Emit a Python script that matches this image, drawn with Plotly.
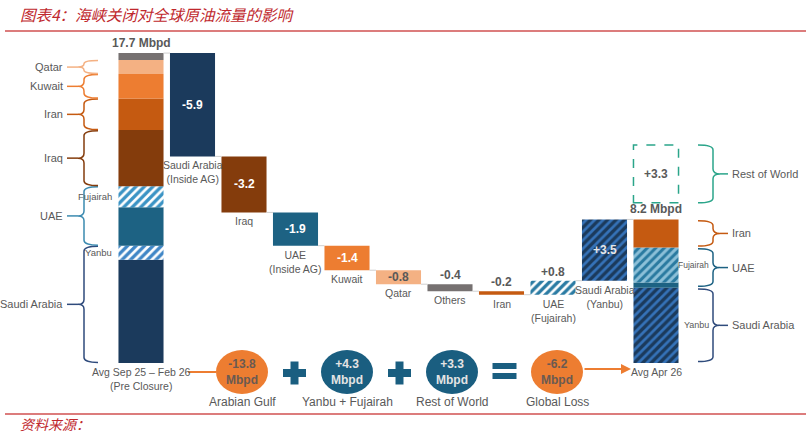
import plotly.graph_objects as go

# ------------------------------------------------------------------ data
pre_segments = ["Saudi Arabia (Inside AG)", "Saudi Arabia (Yanbu)", "UAE (Inside AG)",
                "UAE (Fujairah)", "Iraq", "Iran", "Kuwait", "Qatar", "Others"]
pre_values = [5.9, 0.8, 2.2, 1.2, 3.2, 1.8, 1.4, 0.8, 0.4]

change_labels = ["Saudi Arabia<br>(Inside AG)", "Iraq", "UAE<br>(Inside AG)", "Kuwait",
                 "Qatar", "Others", "Iran", "UAE<br>(Fujairah)", "Saudi Arabia<br>(Yanbu)"]
change_values = [-5.9, -3.2, -1.9, -1.4, -0.8, -0.4, -0.2, 0.8, 3.5]

post_segments = ["Saudi Arabia (Yanbu)", "UAE (Inside AG)", "UAE (Fujairah)", "Iran"]
post_values = [4.3, 0.3, 2.0, 1.6]
rest_of_world = 3.3

start_label = "Avg Sep 25 – Feb 26<br>(Pre Closure)"
end_label = "Avg Apr 26"

left_groups = ["Saudi Arabia", "UAE", "Iraq", "Iran", "Kuwait", "Qatar"]
left_group_sizes = [2, 2, 1, 1, 1, 1]
right_groups = ["Saudi Arabia", "UAE", "Iran"]
right_group_sizes = [1, 2, 1]

summary_values = ["-13.8", "+4.3", "+3.3", "-6.2"]
summary_labels = ["Arabian Gulf", "Yanbu + Fujairah", "Rest of World", "Global Loss"]
summary_ops = ["+", "+", "="]

title_text = "图表4：海峡关闭对全球原油流量的影响"
source_text = "资料来源："

# ------------------------------------------------------------------ styles
NAVY = "#1B3A5C"
TEAL = "#1D6283"
GREY_TXT = "#595959"
ORANGE = "#ED7D31"
RED = "#C0282D"
FONT = "Liberation Sans Narrow, Arial Narrow, Liberation Sans, Arial, sans-serif"

def solid(c):
    return dict(color=c, line=dict(width=0))

def hatch(bg, fg, sol=0.45):
    return dict(color=bg, line=dict(width=0),
                pattern=dict(shape="/", bgcolor=bg, fgcolor=fg, size=6,
                             solidity=sol, fillmode="replace"))

seg_style_pre = {
    "Saudi Arabia (Inside AG)": solid(NAVY),
    "Saudi Arabia (Yanbu)": hatch("#FFFFFF", "#3F86C6", 0.55),
    "UAE (Inside AG)": solid(TEAL),
    "UAE (Fujairah)": hatch("#FFFFFF", "#3A93C4", 0.55),
    "Iraq": solid("#843C0C"),
    "Iran": solid("#C55A11"),
    "Kuwait": solid(ORANGE),
    "Qatar": solid("#F4B183"),
    "Others": solid("#767171"),
}
seg_style_post = {
    "Saudi Arabia (Yanbu)": hatch(NAVY, "#3572B8", 0.45),
    "UAE (Inside AG)": solid(TEAL),
    "UAE (Fujairah)": hatch("#2A7AA0", "#8CC0D8", 0.5),
    "Iran": solid("#C55A11"),
}
change_styles = [solid(NAVY), solid("#843C0C"), solid(TEAL), solid(ORANGE), solid("#F4B183"),
                 solid("#767171"), solid("#C55A11"), hatch("#FFFFFF", "#2A7BA3", 0.55),
                 hatch(NAVY, "#3572B8", 0.45)]
change_text_pos = ["in", "in", "in", "in", "in", "above", "above", "above", "in"]
change_text_col = ["white", "white", "white", "white", GREY_TXT, GREY_TXT, GREY_TXT, GREY_TXT, "#E6E6E6"]

left_group_colors = ["#2F4B7C", "#3B8AB0", "#843C0C", "#C55A11", ORANGE, "#F4B183"]
right_group_colors = ["#2F4B7C", "#1D6283", "#C55A11"]
ROW_COLOR = "#2BA58A"

# ------------------------------------------------------------------ geometry (pixel mapping)
W, H = 811, 437
X_C0, X_S = 141.0, 51.5      # pixel of category 0 and pixel per category
Y_ZERO, Y_S = 363.0, 17.51   # pixel of value 0 and pixels per Mbpd
BAR_W = 0.875

def px2x(p):
    return (p - X_C0) / X_S

def px2y(p):
    return (Y_ZERO - p) / Y_S

fig = go.Figure()
shapes = []
ann = []

def add_bar(pos, base, h, style):
    fig.add_trace(go.Bar(x=[pos], y=[h], base=[base], width=BAR_W, marker=style,
                         hoverinfo="skip", showlegend=False))

def text(x, y, t, size=11, color=GREY_TXT, bold=False, xanchor="center", yanchor="middle",
         yshift=0, family=FONT):
    if bold:
        t = "<b>" + t + "</b>"
    ann.append(dict(x=x, y=y, xref="x", yref="y", text=t,
                    showarrow=False, xanchor=xanchor, yanchor=yanchor, yshift=yshift,
                    font=dict(size=size, color=color, family=family), align="center"))

# ---- left stacked bar
pos_start = 0
cum = 0.0
pre_bounds = []
for name, v in zip(pre_segments, pre_values):
    add_bar(pos_start, cum, v, seg_style_pre[name])
    pre_bounds.append((cum, cum + v))
    cum += v
total_pre = cum
text(pos_start, total_pre, "%.1f Mbpd" % total_pre, size=12, bold=True, yanchor="bottom", yshift=1)
text(pos_start, 0, start_label, size=10.5, yanchor="top", yshift=-1)

# ---- waterfall
level = total_pre
prev_pos = pos_start
for i, (lab, v) in enumerate(zip(change_labels, change_values)):
    pos = i + 1
    lo, hi = (level + v, level) if v < 0 else (level, level + v)
    shapes.append(dict(type="line", xref="x", yref="y", x0=prev_pos + BAR_W / 2, x1=pos - BAR_W / 2,
                       y0=level, y1=level, line=dict(color="#D0D0D0", width=1)))
    add_bar(pos, lo, hi - lo, change_styles[i])
    t = ("%+.1f" % v)
    if change_text_pos[i] == "in":
        text(pos, (lo + hi) / 2, t, size=12, color=change_text_col[i], bold=True)
    else:
        text(pos, hi, t, size=12, color=change_text_col[i], bold=True, yanchor="bottom", yshift=0)
    text(pos, lo, lab, size=10.5, yanchor="top", yshift=-1)
    level += v
    prev_pos = pos

# ---- right stacked bar
pos_end = len(change_values) + 1
shapes.append(dict(type="line", xref="x", yref="y", x0=prev_pos + BAR_W / 2, x1=pos_end - BAR_W / 2,
                   y0=level, y1=level, line=dict(color="#D0D0D0", width=1)))
cum = 0.0
post_bounds = []
for name, v in zip(post_segments, post_values):
    add_bar(pos_end, cum, v, seg_style_post[name])
    post_bounds.append((cum, cum + v))
    cum += v
total_post = cum
text(pos_end, total_post, "%.1f Mbpd" % total_post, size=12, bold=True, yanchor="bottom", yshift=1)
text(pos_end, 0, end_label, size=10.5, yanchor="top", yshift=-1)

# rest of world dashed box
row_gap = 0.95
row_lo = total_post + row_gap
row_hi = row_lo + rest_of_world
shapes.append(dict(type="rect", xref="x", yref="y", x0=pos_end - BAR_W / 2, x1=pos_end + BAR_W / 2,
                   y0=row_lo, y1=row_hi, line=dict(color=ROW_COLOR, width=1.5, dash="dash")))
text(pos_end, (row_lo + row_hi) / 2, "+%.1f" % rest_of_world, size=12, bold=True)

# ---- braces
def brace(lo, hi, tip, spine, point, color):
    r = min(0.28, (hi - lo) / 4.0)
    mid = (lo + hi) / 2
    tx, sx, pxx = px2x(tip), px2x(spine), px2x(point)
    path = ("M %f,%f Q %f,%f %f,%f L %f,%f Q %f,%f %f,%f Q %f,%f %f,%f L %f,%f Q %f,%f %f,%f" %
            (tx, hi, sx, hi, sx, hi - r, sx, mid + r, sx, mid, pxx, mid, sx, mid, sx, mid - r,
             sx, lo + r, sx, lo, tx, lo))
    shapes.append(dict(type="path", xref="x", yref="y", path=path,
                       line=dict(color=color, width=1.5)))

idx = 0
for g, n, col in zip(left_groups, left_group_sizes, left_group_colors):
    lo = pre_bounds[idx][0]
    hi = pre_bounds[idx + n - 1][1]
    brace(lo + 0.03, hi - 0.03, 98, 84, 78, col)
    mid = (lo + hi) / 2
    shapes.append(dict(type="line", xref="x", yref="y", x0=px2x(67), x1=px2x(78), y0=mid, y1=mid,
                       line=dict(color=col, width=1.5)))
    text(px2x(65), mid, g, size=11, xanchor="right")
    idx += n

text(px2x(114), sum(pre_bounds[3]) / 2, "Fujairah", size=9.5, xanchor="right")
text(px2x(114), sum(pre_bounds[1]) / 2, "Yanbu", size=9.5, xanchor="right")

idx = 0
for g, n, col in zip(right_groups, right_group_sizes, right_group_colors):
    lo = post_bounds[idx][0]
    hi = post_bounds[idx + n - 1][1]
    brace(lo + 0.08, hi - 0.08, 698, 713, 720, col)
    mid = (lo + hi) / 2
    shapes.append(dict(type="line", xref="x", yref="y", x0=px2x(720), x1=px2x(728), y0=mid, y1=mid,
                       line=dict(color=col, width=1.5)))
    text(px2x(730), mid, g, size=11, xanchor="left")
    idx += n
brace(row_lo, row_hi, 698, 713, 720, ROW_COLOR)
shapes.append(dict(type="line", xref="x", yref="y", x0=px2x(720), x1=px2x(728),
                   y0=(row_lo + row_hi) / 2, y1=(row_lo + row_hi) / 2,
                   line=dict(color=ROW_COLOR, width=1.5)))
text(px2x(730), (row_lo + row_hi) / 2, "Rest of World", size=11, xanchor="left")
text(px2x(711), sum(post_bounds[2]) / 2, "Fujairah", size=8.5, xanchor="right")
text(px2x(711), sum(post_bounds[0]) / 2, "Yanbu", size=9, xanchor="right")

# ---- summary circles
circle_cx = [242, 347, 452, 557]
circle_cy = 372
circle_colors = [ORANGE, "#1A5E80", "#1A5E80", ORANGE]
circle_txt = ["#6A5A52", "#E4E4E4", "#E4E4E4", "#6A5A52"]
for cx, val, lab, fc, tc in zip(circle_cx, summary_values, summary_labels, circle_colors, circle_txt):
    shapes.append(dict(type="circle", xref="x", yref="y", x0=px2x(cx - 26), x1=px2x(cx + 26),
                       y0=px2y(circle_cy + 22), y1=px2y(circle_cy - 22), fillcolor=fc,
                       line=dict(width=0)))
    text(px2x(cx), px2y(circle_cy), val + "<br>Mbpd", size=12, color=tc, bold=True)
    text(px2x(cx), px2y(402), lab, size=12)

op_x = [(a + b) / 2 for a, b in zip(circle_cx[:-1], circle_cx[1:])]
OPC = "#1A5E80"
for ox, op in zip(op_x, summary_ops):
    if op == "+":
        shapes.append(dict(type="rect", xref="x", yref="y", x0=px2x(ox - 11.5), x1=px2x(ox + 11.5),
                           y0=px2y(373 + 4), y1=px2y(373 - 4), fillcolor=OPC, line=dict(width=0)))
        shapes.append(dict(type="rect", xref="x", yref="y", x0=px2x(ox - 4), x1=px2x(ox + 4),
                           y0=px2y(373 + 11.5), y1=px2y(373 - 11.5), fillcolor=OPC, line=dict(width=0)))
    else:
        for y0p, y1p in [(363, 369), (373, 379)]:
            shapes.append(dict(type="rect", xref="x", yref="y", x0=px2x(ox - 12), x1=px2x(ox + 12),
                               y0=px2y(y1p), y1=px2y(y0p), fillcolor=OPC, line=dict(width=0)))

shapes.append(dict(type="line", xref="x", yref="y", x0=px2x(188), x1=px2x(circle_cx[0] - 26),
                   y0=px2y(372), y1=px2y(372), line=dict(color=ORANGE, width=2)))
ann.append(dict(x=px2x(631), y=px2y(369), ax=px2x(circle_cx[-1] + 26), ay=px2y(369),
                xref="x", yref="y", axref="x", ayref="y", text="", showarrow=True,
                arrowhead=2, arrowsize=1, arrowwidth=2, arrowcolor=ORANGE))

# ---- title / footer
CJK = "Noto Sans CJK SC, sans-serif"
ann.append(dict(x=px2x(18), y=px2y(14), xref="x", yref="y", text="<i>" + title_text + "</i>",
                showarrow=False, xanchor="left", yanchor="middle",
                font=dict(size=15.5, color=RED, family=CJK)))
ann.append(dict(x=px2x(18), y=px2y(424), xref="x", yref="y", text="<i>" + source_text + "</i>",
                showarrow=False, xanchor="left", yanchor="middle",
                font=dict(size=14, color=RED, family=CJK)))
for yl in (31, 414):
    shapes.append(dict(type="line", xref="x", yref="y", x0=px2x(5), x1=px2x(806),
                       y0=px2y(yl), y1=px2y(yl), line=dict(color="#D05050", width=1.5)))

fig.update_layout(
    width=W, height=H, margin=dict(l=0, r=0, t=0, b=0),
    paper_bgcolor="white", plot_bgcolor="white", barmode="overlay", showlegend=False,
    xaxis=dict(visible=False, range=[px2x(0), px2x(W)], fixedrange=True),
    yaxis=dict(visible=False, range=[px2y(H), px2y(0)], fixedrange=True),
    shapes=shapes, annotations=ann, font=dict(family=FONT, color=GREY_TXT),
)
fig.write_html("out.html")
